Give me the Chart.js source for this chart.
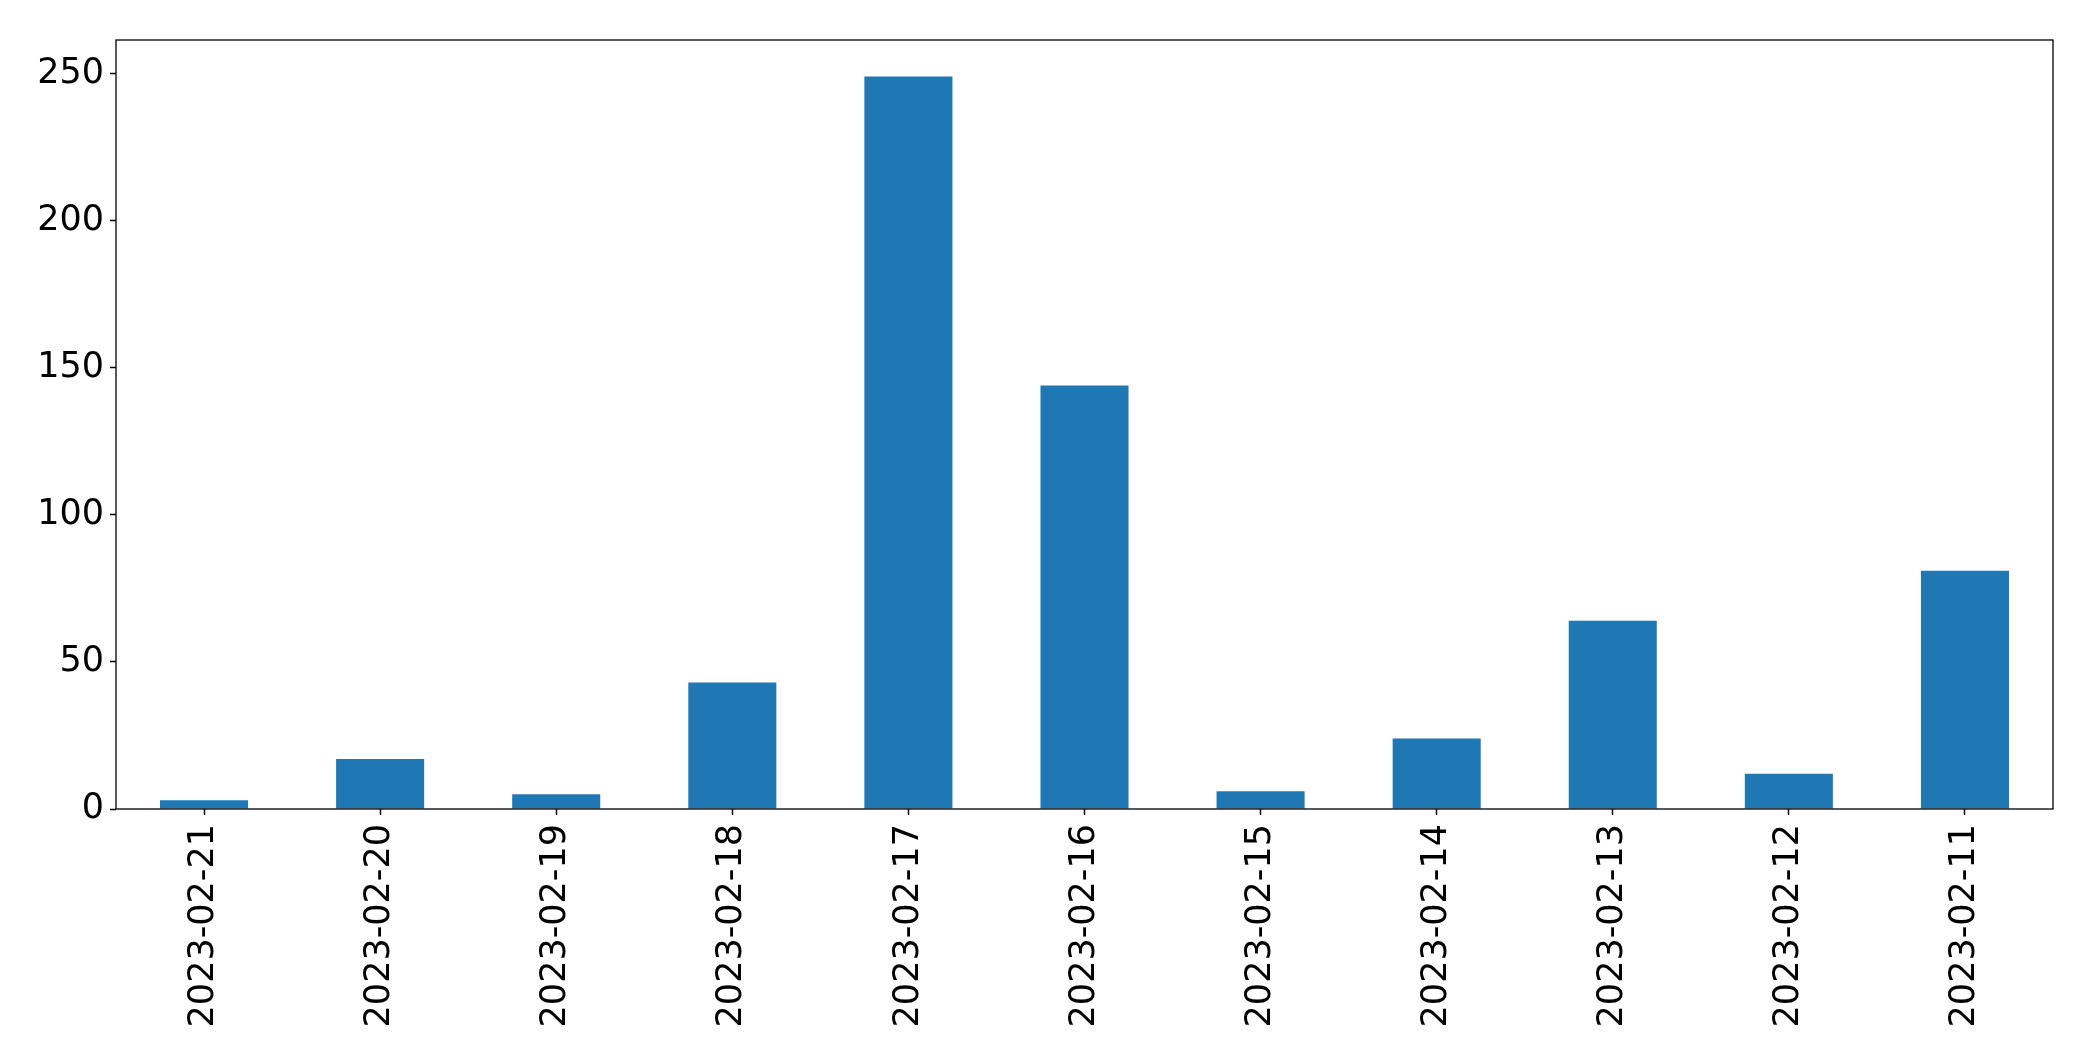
<!DOCTYPE html>
<html>
<head>
<meta charset="utf-8">
<script src="https://cdn.jsdelivr.net/npm/chart.js@4/dist/chart.umd.min.js"></script>
<style>
  body { margin: 0; background: #ffffff; }
  #wrap { width: 2093px; height: 1061px; }
</style>
</head>
<body>
<div id="wrap"><canvas id="barChart" width="2093" height="1061"></canvas></div>
<script>
const dates = [
  "2023-02-21", "2023-02-20", "2023-02-19", "2023-02-18", "2023-02-17", "2023-02-16",
  "2023-02-15", "2023-02-14", "2023-02-13", "2023-02-12", "2023-02-11",
];
const counts = [3, 17, 5, 43, 249, 144, 6, 24, 64, 12, 81];
const yTicks = [0, 50, 100, 150, 200, 250];

// box round the plot area, like the matplotlib frame
const frame = {
  id: "frame",
  afterDraw(chart) {
    const a = chart.chartArea;
    const c = chart.ctx;
    c.save();
    c.strokeStyle = "#000000";
    c.lineWidth = 1.3;
    c.strokeRect(a.left, a.top, a.right - a.left, a.bottom - a.top);
    c.restore();
  },
};

document.addEventListener("DOMContentLoaded", function () {
  const ctx = document.getElementById("barChart");

  new Chart(ctx, {
    type: "bar",
    data: {
      labels: dates,
      datasets: [
        {
          data: counts,
          backgroundColor: "#1f77b4",
          borderWidth: 0,
          categoryPercentage: 1,
          barPercentage: 0.5,
        },
      ],
    },
    options: {
      responsive: false,
      animation: false,
      layout: {
        padding: { left: 0, top: 40, right: 40, bottom: 0 },
      },
      plugins: {
        legend: { display: false },
        tooltip: { enabled: false },
      },
      scales: {
        x: {
          offset: true,
          grid: {
            display: true,
            drawOnChartArea: false,
            drawTicks: true,
            tickLength: 6,
            tickWidth: 1.5,
            tickColor: "#000000",
            offset: false,
          },
          border: { display: false },
          ticks: {
            color: "#000000",
            font: { family: "DejaVu Sans", size: 35 },
            minRotation: 90,
            maxRotation: 90,
            padding: 9,
            autoSkip: false,
          },
          afterFit: function (scale) {
            scale.height = 252;
          },
        },
        y: {
          min: 0,
          max: 261.45,
          grid: {
            display: true,
            drawOnChartArea: false,
            drawTicks: true,
            tickLength: 6,
            tickWidth: 1.5,
            tickColor: "#000000",
          },
          border: { display: false },
          ticks: {
            color: "#000000",
            font: { family: "DejaVu Sans", size: 35 },
            padding: 6,
          },
          afterBuildTicks: function (scale) {
            scale.ticks = yTicks.map((v) => ({ value: v }));
          },
          afterFit: function (scale) {
            scale.width = 116;
          },
        },
      },
    },
    plugins: [frame],
  });
});
</script>
</body>
</html>
